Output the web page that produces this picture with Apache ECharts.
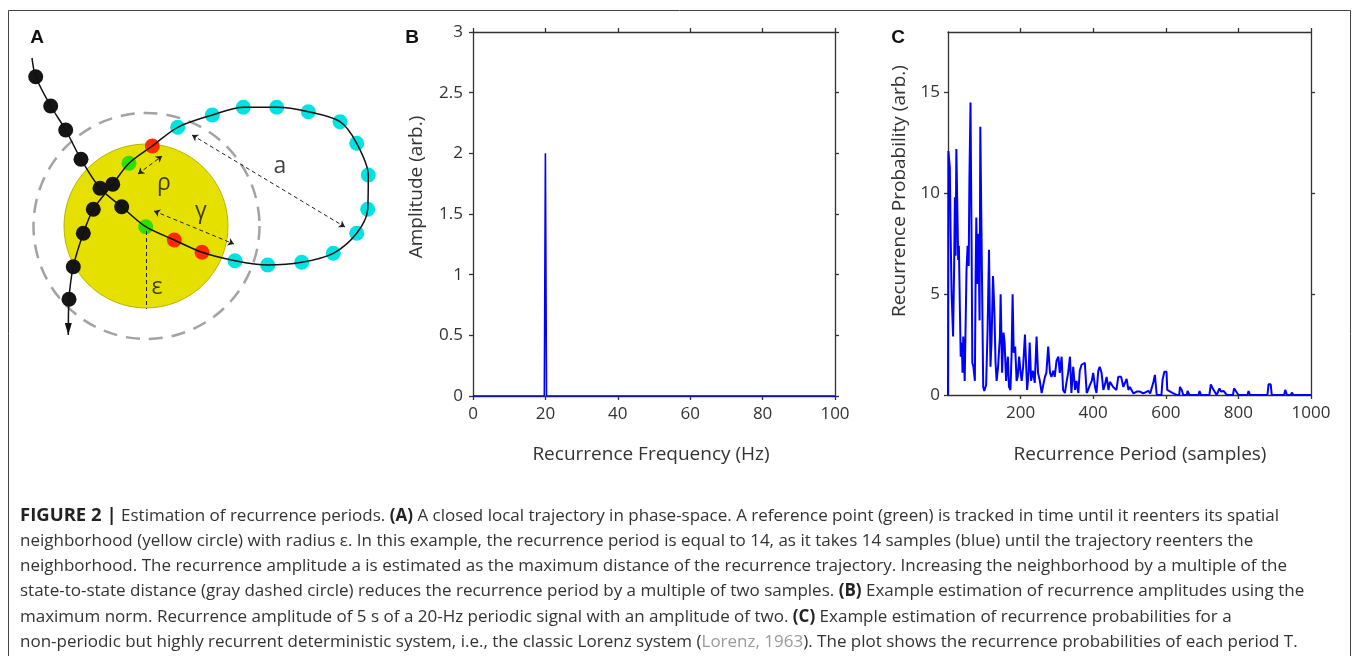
<!DOCTYPE html>
<html>
<head>
<meta charset="utf-8">
<script src="https://cdn.jsdelivr.net/npm/echarts@6/dist/echarts.min.js"></script>
<style>
  html, body { margin: 0; padding: 0; background: #fff; }
  #chart { width: 1358px; height: 656px; }
</style>
</head>
<body>
<div id="chart"></div>
<script>
// ---- panel A : phase-space sketch (diagram units, y grows downward)
let trajX = [32, 35.7, 50.7, 65.7, 81, 100, 121.7, 145.7, 174.3, 202,
  235, 267.7, 301.7, 333.3, 356.7, 367.7, 368.3, 356.7, 340, 308.3, 276.7, 243.3, 212.3, 177.7,
  152.3, 129, 112.7, 93.3, 83.3, 73.3, 69, 68.3];
let trajY = [58, 76.7, 106, 130, 159.3, 188.3, 206.7, 226.7, 240, 252.3,
  260.7, 265, 262.3, 253.3, 233.3, 209.3, 175, 143.3, 121.7, 111.7, 107.3, 107.3, 115, 127.3,
  146, 163.3, 184.3, 209.3, 233.3, 266.7, 299.3, 335];
// k = black, g = green (reference), r = red, c = cyan (recurrence samples)
let trajKind = ["", "k", "k", "k", "k", "k", "k", "g", "r", "r",
  "c", "c", "c", "c", "c", "c", "c", "c", "c", "c", "c", "c", "c", "c",
  "r", "g", "k", "k", "k", "k", "k", ""];
let neighCenter = [146, 226];
let greekLabels = ["ρ", "a", "γ", "ε"];
let greekX = [164, 280, 201, 157];
let greekY = [183, 166, 211, 287];
// dashed arrows: [x1, y1, x2, y2]
let arrowRho = [138, 174, 162, 156];
let arrowA = [192, 135, 345, 227];
let arrowGamma = [154, 211, 234, 244];
let lineEps = [146, 231, 146, 309];

// ---- panel B : recurrence amplitude spectrum
let freqB = [0, 19.7, 20, 20.3, 100];
let ampB = [0, 0, 2, 0, 0];
let freqTicks = [0, 20, 40, 60, 80, 100];

// ---- panel C : recurrence probability vs period
let periodC = [0, 1, 5, 7, 10, 14, 17, 19, 21, 23, 26, 28, 30, 33, 35, 38, 40, 42, 46, 49,
  51, 54, 57, 59, 62, 65, 67, 70, 74, 76, 78, 81, 84, 87, 89, 94, 97, 100, 105, 109,
  113, 117, 120, 124, 128, 131, 134, 138, 143, 145, 149, 153, 156, 160, 165, 168, 172, 175, 178, 181,
  185, 189, 192, 196, 200, 203, 207, 212, 215, 218, 222, 225, 229, 234, 239, 244, 248, 253, 258, 262,
  267, 271, 276, 281, 285, 290, 294, 299, 304, 308, 313, 317, 322, 327, 331, 336, 340, 345, 350, 354,
  359, 363, 368, 373, 377, 382, 386, 391, 396, 400, 405, 409, 414, 418, 423, 428, 432, 437, 442, 446,
  455, 464, 469, 477, 483, 492, 497, 501, 506, 511, 520, 524, 529, 534, 538, 543, 552, 557, 562, 566,
  570, 573, 575, 588, 591, 596, 602, 604, 612, 621, 630, 637, 639, 644, 648, 658, 660, 665, 690, 693,
  697, 720, 724, 729, 734, 740, 745, 748, 752, 759, 763, 768, 785, 788, 793, 800, 825, 828, 832, 880,
  883, 889, 892, 926, 929, 934, 945, 947, 952, 1000];
let probC = [0, 12.1, 11.3, 8.2, 5.0, 2.9, 6.5, 9.8, 6.9, 12.2, 9.0, 6.7, 7.4, 4.0, 1.9, 2.6, 1.1, 2.9, 0.7, 4.0,
  6.2, 7.4, 6.4, 10.7, 14.5, 7.4, 1.6, 1.4, 0.7, 5.7, 8.8, 5.5, 8.0, 3.7, 13.3, 13.3, 0.4, 0.2, 0.5, 3.2,
  7.2, 1.4, 2.7, 5.9, 4.0, 1.6, 0.7, 1.4, 2.9, 5.0, 1.1, 3.1, 2.6, 0.7, 1.9, 0.4, 0.25, 1.9, 5.0, 2.1,
  2.4, 0.7, 0.9, 1.9, 1.1, 0.7, 1.4, 3.0, 1.6, 0.25, 1.1, 2.6, 0.7, 1.2, 0.6, 2.9, 1.1, 0.7, 0.1, 0.1,
  0.9, 1.1, 2.4, 1.1, 0.9, 1.2, 0.9, 1.7, 1.9, 1.1, 1.9, 0.25, 0.1, 0.7, 1.1, 1.9, 0.1, 1.4, 0.25, 0.7,
  0.1, 1.2, 1.5, 1.5, 1.6, 0.1, 0.25, 0.5, 0.7, 1.1, 0.4, 0.1, 1.2, 1.4, 1.1, 0.25, 0.5, 0.9, 0.25, 0.65,
  0.4, 0.25, 0.9, 0.9, 0.4, 0.8, 0.25, 0.4, 0.4, 0.08, 0.17, 0.25, 0.17, 0.25, 0.08, 0, 0.2, 0.08, 0, 0.66,
  1.0, 1.05, 0, 0, 0.75, 1.15, 1.15, 0.25, 0.17, 0.08, 0, 0, 0.4, 0.25, 0, 0, 0.2, 0, 0, 0.2,
  0, 0, 0.53, 0.33, 0.25, 0, 0, 0.33, 0.17, 0.2, 0.17, 0, 0, 0.33, 0.2, 0, 0, 0.2, 0, 0,
  0.53, 0.53, 0, 0, 0.25, 0, 0, 0.12, 0, 0];
let periodTicks = [200, 400, 600, 800, 1000];
let probTicks = [0, 5, 10, 15];

// ---- caption lines
let captionLines = [
  "{f|FIGURE 2 |} Estimation of recurrence periods. {b|(A)} A closed local trajectory in phase-space. A reference point (green) is tracked in time until it reenters its spatial",
  "neighborhood (yellow circle) with radius ε. In this example, the recurrence period is equal to 14, as it takes 14 samples (blue) until the trajectory reenters the",
  "neighborhood. The recurrence amplitude a is estimated as the maximum distance of the recurrence trajectory. Increasing the neighborhood by a multiple of the",
  "state-to-state distance (gray dashed circle) reduces the recurrence period by a multiple of two samples. {b|(B)} Example estimation of recurrence amplitudes using the",
  "maximum norm. Recurrence amplitude of 5 s of a 20-Hz periodic signal with an amplitude of two. {b|(C)} Example estimation of recurrence probabilities for a",
  "non-periodic but highly recurrent deterministic system, i.e., the classic Lorenz system ({g|Lorenz, 1963}). The plot shows the recurrence probabilities of each period T."
];

function pairs(xs, ys) {
  return xs.map((x, i) => [x, ys[i]]);
}
function dotsOf(kind) {
  let out = [];
  trajKind.forEach((k, i) => {
    if (k === kind) out.push([trajX[i], trajY[i]]);
  });
  return out;
}
function dashed(seg, withArrows) {
  let sym = withArrows ? "arrow" : "none";
  return [
    { coord: [seg[0], seg[1]], symbol: sym },
    { coord: [seg[2], seg[3]], symbol: sym },
  ];
}

const TXT = "#333";
const FONT = "Open Sans";
const CAP_SIZE = 17;

// shared look of the MATLAB-like box axes
function boxAxis(extra) {
  return Object.assign({
    type: "value",
    axisLine: { show: true, onZero: false, lineStyle: { color: "#333", width: 1.3 } },
    axisTick: { show: true, length: 4, lineStyle: { color: "#333", width: 1.3 } },
    axisLabel: { show: true, color: TXT, fontSize: 17, fontFamily: FONT },
    splitLine: { show: false },
  }, extra);
}
function mirrorAxis(extra) {
  return boxAxis(Object.assign({ axisLabel: { show: false } }, extra));
}
function plainNum(v) {
  return String(v);
}

let chart = echarts.init(document.getElementById("chart"));

let option = {
  animation: false,
  backgroundColor: "#fff",
  grid: [
    { left: 0, top: 0, width: 400, height: 350 },
    { left: 473, top: 32, width: 362, height: 364 },
    { left: 948, top: 32, width: 363, height: 363 },
  ],
  xAxis: [
    { type: "value", gridIndex: 0, min: 0, max: 400, show: false },
    boxAxis({ gridIndex: 1, position: "bottom", min: 0, max: 100, interval: 20,
      axisLabel: { color: TXT, fontSize: 17, fontFamily: FONT, margin: 10, customValues: freqTicks } }),
    mirrorAxis({ gridIndex: 1, position: "top", min: 0, max: 100, interval: 20 }),
    boxAxis({ gridIndex: 2, position: "bottom", min: 0, max: 1000, interval: 200,
      axisTick: { show: true, length: 4, lineStyle: { color: "#333", width: 1.3 }, customValues: periodTicks },
      axisLabel: { color: TXT, fontSize: 17, fontFamily: FONT, margin: 10, customValues: periodTicks, formatter: plainNum } }),
    mirrorAxis({ gridIndex: 2, position: "top", min: 0, max: 1000, interval: 200,
      axisTick: { show: true, length: 4, lineStyle: { color: "#333", width: 1.3 }, customValues: periodTicks } }),
  ],
  yAxis: [
    { type: "value", gridIndex: 0, min: 0, max: 350, inverse: true, show: false },
    boxAxis({ gridIndex: 1, position: "left", min: 0, max: 3, interval: 0.5,
      axisLabel: { color: TXT, fontSize: 17, fontFamily: FONT, margin: 10 } }),
    mirrorAxis({ gridIndex: 1, position: "right", min: 0, max: 3, interval: 0.5 }),
    boxAxis({ gridIndex: 2, position: "left", min: 0, max: 18, interval: 5,
      axisTick: { show: true, length: 4, lineStyle: { color: "#333", width: 1.3 }, customValues: probTicks },
      axisLabel: { color: TXT, fontSize: 17, fontFamily: FONT, margin: 8, customValues: probTicks } }),
    mirrorAxis({ gridIndex: 2, position: "right", min: 0, max: 18, interval: 5,
      axisTick: { show: true, length: 4, lineStyle: { color: "#333", width: 1.3 }, customValues: probTicks.slice(1) } }),
  ],
  series: [
    // A: yellow neighborhood
    {
      type: "scatter", xAxisIndex: 0, yAxisIndex: 0, silent: true,
      data: [neighCenter], symbolSize: 164,
      itemStyle: { color: "#e6e000", borderColor: "#b9b400", borderWidth: 1, opacity: 1 },
    },
    // A: enlarged (gray dashed) neighborhood
    {
      type: "scatter", xAxisIndex: 0, yAxisIndex: 0, silent: true,
      data: [[neighCenter[0] + 0.5, neighCenter[1]]], symbolSize: 226,
      itemStyle: { color: "rgba(0,0,0,0)", borderColor: "#a3a3a3", borderWidth: 2.5, borderType: [14, 9], opacity: 1 },
    },
    // A: trajectory + dashed distance arrows
    {
      type: "line", xAxisIndex: 0, yAxisIndex: 0, silent: true,
      data: pairs(trajX, trajY), smooth: 0.3, symbol: "none",
      lineStyle: { color: "#111", width: 1.5 },
      markLine: {
        silent: true, symbolSize: 6, label: { show: false },
        lineStyle: { color: "#222", width: 1, type: [4, 3] },
        data: [dashed(arrowRho, true), dashed(arrowA, true), dashed(arrowGamma, true), dashed(lineEps, false)],
      },
    },
    { type: "scatter", xAxisIndex: 0, yAxisIndex: 0, silent: true, data: dotsOf("k"), symbolSize: 15, itemStyle: { color: "#151515", opacity: 1 } },
    { type: "scatter", xAxisIndex: 0, yAxisIndex: 0, silent: true, data: dotsOf("c"), symbolSize: 15, itemStyle: { color: "#00e3e3", opacity: 1 } },
    { type: "scatter", xAxisIndex: 0, yAxisIndex: 0, silent: true, data: dotsOf("r"), symbolSize: 15, itemStyle: { color: "#ff2a00", opacity: 1 } },
    { type: "scatter", xAxisIndex: 0, yAxisIndex: 0, silent: true, data: dotsOf("g"), symbolSize: 15, itemStyle: { color: "#2ee000", opacity: 1 } },
    // A: arrow head at end of the trajectory
    {
      type: "scatter", xAxisIndex: 0, yAxisIndex: 0, silent: true,
      data: [[trajX[trajX.length - 1], trajY[trajY.length - 1]]],
      symbol: "triangle", symbolSize: [7, 12], symbolRotate: 180, symbolOffset: [0, -6],
      itemStyle: { color: "#111", opacity: 1 },
    },
    // A: greek labels
    {
      type: "scatter", xAxisIndex: 0, yAxisIndex: 0, silent: true, symbolSize: 1,
      itemStyle: { color: "rgba(0,0,0,0)" },
      data: greekLabels.map((g, i) => ({ name: g, value: [greekX[i], greekY[i]] })),
      label: { show: true, position: "inside", formatter: "{b}", fontSize: 23, color: "#111", fontFamily: FONT },
    },
    // B
    {
      type: "line", xAxisIndex: 1, yAxisIndex: 1, data: pairs(freqB, ampB),
      symbol: "none", lineStyle: { color: "#0000ff", width: 1.6 },
    },
    // C
    {
      type: "line", xAxisIndex: 3, yAxisIndex: 3, data: pairs(periodC, probC),
      symbol: "none", lineStyle: { color: "#0000ff", width: 2 },
    },
  ],
  graphic: [
    { type: "rect", shape: { x: 8.5, y: 10.5, width: 1342, height: 700 }, style: { fill: "none", stroke: "#444", lineWidth: 1 }, silent: true },
    { type: "text", x: 37, y: 38, style: { text: "A", font: "bold 19px Liberation Sans", fill: "#111", textAlign: "center", textVerticalAlign: "middle" } },
    { type: "text", x: 412, y: 38, style: { text: "B", font: "bold 19px Liberation Sans", fill: "#111", textAlign: "center", textVerticalAlign: "middle" } },
    { type: "text", x: 898, y: 38, style: { text: "C", font: "bold 19px Liberation Sans", fill: "#111", textAlign: "center", textVerticalAlign: "middle" } },
    { type: "text", x: 651, y: 455, style: { text: "Recurrence Frequency (Hz)", font: "19px Open Sans", fill: TXT, textAlign: "center", textVerticalAlign: "middle" } },
    { type: "text", x: 1140, y: 455, style: { text: "Recurrence Period (samples)", font: "19px Open Sans", fill: TXT, textAlign: "center", textVerticalAlign: "middle" } },
    { type: "text", x: 417, y: 187, rotation: Math.PI / 2, style: { text: "Amplitude (arb.)", font: "19px Open Sans", fill: TXT, textAlign: "center", textVerticalAlign: "middle" } },
    { type: "text", x: 900, y: 191, rotation: Math.PI / 2, style: { text: "Recurrence Probability (arb.)", font: "19px Open Sans", fill: TXT, textAlign: "center", textVerticalAlign: "middle" } },
  ].concat(captionLines.map((line, i) => ({
    type: "text", x: 20, y: 516 + i * 25.2,
    style: {
      text: line, font: CAP_SIZE + "px Open Sans", fill: "#333", textVerticalAlign: "middle",
      rich: {
        f: { fontWeight: "bold", fontSize: 18.5, fontFamily: "Open Sans", fill: "#222" },
        b: { fontWeight: "bold", fontSize: CAP_SIZE, fontFamily: "Open Sans", fill: "#222" },
        g: { fontSize: CAP_SIZE, fontFamily: "Open Sans", fill: "#9a9a9a" },
      },
    },
  }))),
};

chart.setOption(option);
</script>
</body>
</html>
